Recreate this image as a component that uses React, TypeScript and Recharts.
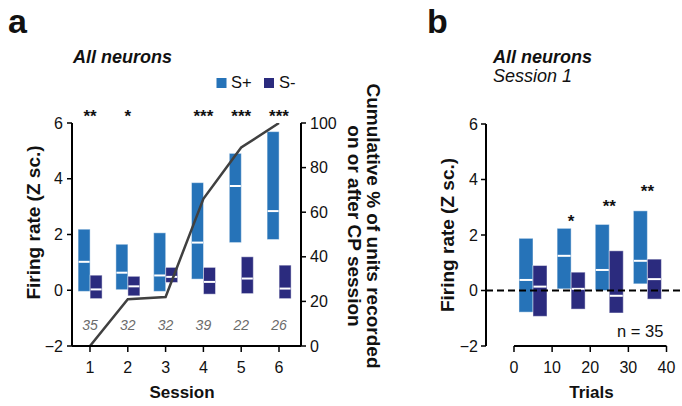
import React from 'react';
import { ComposedChart, Bar, Line, XAxis, YAxis, ReferenceLine, Scatter, Label } from 'recharts';

const FONT = '"Liberation Sans", Arial, Helvetica, sans-serif';
const SPLUS = '#2673b8';
const SMINUS = '#2b2b7e';
const INK = '#111111';

// ---------- Panel a : all neurons across sessions ----------
const sessions = [1, 2, 3, 4, 5, 6];
const splusLow = [-0.04, 0.02, -0.04, 0.4, 1.71, 1.82];
const splusHigh = [2.19, 1.65, 2.06, 3.86, 4.91, 5.69];
const splusMid = [1.02, 0.63, 0.53, 1.71, 3.74, 2.84];
const sminusLow = [-0.3, -0.2, 0.28, -0.14, -0.12, -0.3];
const sminusHigh = [0.54, 0.5, 0.82, 0.82, 1.2, 0.9];
const sminusMid = [0.03, 0.14, 0.48, 0.3, 0.42, 0.06];
const cumulativePct = [0, 21, 22, 66, 89, 100];
const unitCounts = [35, 32, 32, 39, 22, 26];
const sessionStars = ['**', '*', '', '***', '***', '***'];
const leftTicks = [-2, 0, 2, 4, 6];
const rightTicks = [0, 20, 40, 60, 80, 100];

// ---------- Panel b : session 1 across trials ----------
const trialBins = [5, 15, 25, 35];
const bSplusLow = [-0.78, 0.06, 0.0, 0.24];
const bSplusHigh = [1.88, 2.24, 2.38, 2.87];
const bSplusMid = [0.38, 1.25, 0.74, 1.07];
const bSminusLow = [-0.93, -0.67, -0.81, -0.31];
const bSminusHigh = [0.9, 0.66, 1.43, 1.13];
const bSminusMid = [0.14, 0.06, -0.19, 0.41];
const trialStars = ['', '*', '**', '**'];
const trialStarLevel = [0, 2.65, 3.2, 3.72];
const trialTicks = [0, 10, 20, 30, 40];

const rowsA = sessions.map((s, i) => ({
  session: s,
  sp: [splusLow[i], splusHigh[i]],
  spMid: splusMid[i],
  sm: [sminusLow[i], sminusHigh[i]],
  smMid: sminusMid[i],
  cum: cumulativePct[i],
}));

const rowsB = trialBins.map((t, i) => ({
  trial: t,
  sp: [bSplusLow[i], bSplusHigh[i]],
  spMid: bSplusMid[i],
  sm: [bSminusLow[i], bSminusHigh[i]],
  smMid: bSminusMid[i],
}));

const starRowsB = trialBins
  .map((t, i) => ({ trial: t, level: trialStarLevel[i], star: trialStars[i] }))
  .filter((r) => r.star !== '');

const minus = (v: number) => (v < 0 ? '\u2212' + Math.abs(v) : String(v));

const makeBox = (rangeKey: string, midKey: string, fill: string) => (props: any) => {
  const { x, y, width, height, payload } = props;
  if (x == null || y == null || !isFinite(y) || !payload) return <g />;
  const top = Math.min(y, y + height);
  const h = Math.abs(height);
  const [lo, hi] = payload[rangeKey];
  const mid = payload[midKey];
  const my = top + ((hi - mid) / (hi - lo)) * h;
  return (
    <g>
      <rect x={x} y={top} width={width} height={h} fill={fill} stroke="#ffffff" strokeOpacity={0.45} strokeWidth={1} />
      <line x1={x + 0.5} x2={x + width - 0.5} y1={my} y2={my} stroke="#ffffff" strokeWidth={2} />
    </g>
  );
};

const StarTick = (props: any) => {
  const { x, y, payload } = props;
  const i = sessions.indexOf(payload.value);
  const s = i >= 0 ? sessionStars[i] : '';
  return (
    <text x={x} y={y - 1} textAnchor="middle" fontSize={17} fontWeight="bold" fontFamily={FONT} fill={INK}>
      {s}
    </text>
  );
};

const SessionTick = (props: any) => {
  const { x, y, payload } = props;
  const i = sessions.indexOf(payload.value);
  return (
    <g>
      <text x={x} y={y} dy="0.71em" textAnchor="middle" fontSize={16} fontFamily={FONT} fill={INK}>
        {payload.value}
      </text>
      {i >= 0 && (
        <text x={x} y={y - 32} textAnchor="middle" fontSize={14} fontStyle="italic" fontFamily={FONT} fill="#6b6b6b">
          {unitCounts[i]}
        </text>
      )}
    </g>
  );
};

const StarShape = (props: any) => {
  const { cx, cy, payload } = props;
  if (cx == null || cy == null || !payload) return <g />;
  return (
    <text x={cx} y={cy + 9.9} textAnchor="middle" fontSize={17} fontWeight="bold" fontFamily={FONT} fill={INK}>
      {payload.star}
    </text>
  );
};

const yLabel = (dx: number, dy: number) => (p: any) => {
  const vb = p.viewBox || {};
  const cx = vb.x + dx;
  const cy = vb.y + vb.height / 2 + dy;
  return (
    <text
      x={cx}
      y={cy}
      transform={`rotate(-90 ${cx} ${cy})`}
      textAnchor="middle"
      dominantBaseline="central"
      fontSize={19}
      fontWeight="bold"
      fontFamily={FONT}
      fill={INK}
    >
      Firing rate (Z sc.)
    </text>
  );
};

const rightLabel = (p: any) => {
  const vb = p.viewBox || {};
  const cy = vb.y + vb.height / 2 - 8.5;
  const c1 = vb.x + 72.5;
  const c2 = vb.x + 53;
  return (
    <g>
      <text x={c1} y={cy} transform={`rotate(90 ${c1} ${cy})`} textAnchor="middle" dominantBaseline="central" fontSize={19} fontWeight="bold" fontFamily={FONT} fill={INK}>
        Cumulative % of units recorded
      </text>
      <text x={c2} y={cy} transform={`rotate(90 ${c2} ${cy})`} textAnchor="middle" dominantBaseline="central" fontSize={19} fontWeight="bold" fontFamily={FONT} fill={INK}>
        on or after CP session
      </text>
    </g>
  );
};

const xLabel = (text: string, dx: number) => (p: any) => {
  const vb = p.viewBox || {};
  return (
    <text x={vb.x + vb.width / 2 + dx} y={vb.y + 52} textAnchor="middle" fontSize={17} fontWeight="bold" fontFamily={FONT} fill={INK}>
      {text}
    </text>
  );
};

const tickStyle = { fontSize: 16, fill: INK, fontFamily: FONT };
const axisLine = { stroke: '#000', strokeWidth: 2 };
const tickLine = { stroke: '#000', strokeWidth: 1.5 };

const domainA: [number, number] = [0.524, 6.582];
const domainB: [number, number] = [-7.34, 43.8];

export default function App() {
  return (
    <div style={{ position: 'absolute', left: 0, top: 0, width: 682, height: 406, background: '#fff', fontFamily: FONT }}>
      <div style={{ position: 'absolute', left: 0, top: 0 }}>
        <ComposedChart width={400} height={406} data={rowsA} margin={{ top: 103, right: 39, bottom: 30, left: 12 }} barGap={0}>
          <XAxis
            xAxisId="top"
            orientation="top"
            dataKey="session"
            type="number"
            domain={domainA}
            ticks={sessions}
            allowDataOverflow
            height={20}
            axisLine={false}
            tickLine={false}
            tickSize={0}
            tickMargin={0}
            tick={StarTick}
          />
          <XAxis
            dataKey="session"
            type="number"
            domain={domainA}
            ticks={sessions}
            allowDataOverflow
            height={30}
            tickSize={6}
            tickMargin={10}
            axisLine={axisLine}
            tickLine={tickLine}
            tick={SessionTick}
          >
            <Label content={xLabel('Session', -4.5)} />
          </XAxis>
          <YAxis
            yAxisId="left"
            domain={[-2, 6]}
            ticks={leftTicks}
            allowDataOverflow
            width={60}
            tickSize={5}
            tickMargin={4}
            axisLine={axisLine}
            tickLine={tickLine}
            tick={tickStyle}
            tickFormatter={minus}
          >
            <Label content={yLabel(21, -12)} />
          </YAxis>
          <YAxis
            yAxisId="right"
            orientation="right"
            domain={[0, 100]}
            ticks={rightTicks}
            allowDataOverflow
            width={60}
            tickSize={5}
            tickMargin={4}
            axisLine={axisLine}
            tickLine={tickLine}
            tick={tickStyle}
          >
            <Label content={rightLabel} />
          </YAxis>
          <Bar yAxisId="left" dataKey="sp" name="S+" fill={SPLUS} barSize={12} isAnimationActive={false} shape={makeBox('sp', 'spMid', SPLUS)} />
          <Bar yAxisId="left" dataKey="sm" name="S-" fill={SMINUS} barSize={12} isAnimationActive={false} shape={makeBox('sm', 'smMid', SMINUS)} />
          <Line yAxisId="right" dataKey="cum" stroke="#404040" strokeWidth={2.5} dot={false} activeDot={false} isAnimationActive={false} />
        </ComposedChart>
      </div>

      <div style={{ position: 'absolute', left: 390, top: 0 }}>
        <ComposedChart width={292} height={406} data={rowsB} margin={{ top: 124, right: 1, bottom: 30, left: 36 }} barGap={0}>
          <XAxis
            dataKey="trial"
            type="number"
            domain={domainB}
            ticks={trialTicks}
            allowDataOverflow
            height={30}
            tickSize={6}
            tickMargin={10}
            axisLine={false}
            tickLine={tickLine}
            tick={tickStyle}
          >
            <Label content={xLabel('Trials', 8)} />
          </XAxis>
          <YAxis
            domain={[-2, 6]}
            ticks={leftTicks}
            allowDataOverflow
            width={60}
            tickSize={5}
            tickMargin={3}
            axisLine={axisLine}
            tickLine={tickLine}
            tick={tickStyle}
            tickFormatter={minus}
          >
            <Label content={yLabel(21, 0)} />
          </YAxis>
          <ReferenceLine
            segment={[
              { x: trialTicks[0], y: -2 },
              { x: trialTicks[trialTicks.length - 1], y: -2 },
            ]}
            stroke="#000"
            strokeWidth={2}
          />
          <Bar dataKey="sp" name="S+" fill={SPLUS} barSize={14} isAnimationActive={false} shape={makeBox('sp', 'spMid', SPLUS)} />
          <Bar dataKey="sm" name="S-" fill={SMINUS} barSize={14} isAnimationActive={false} shape={makeBox('sm', 'smMid', SMINUS)} />
          <ReferenceLine y={0} stroke="#000" strokeWidth={1.8} strokeDasharray="7 4" />
          <Scatter data={starRowsB} dataKey="level" isAnimationActive={false} shape={StarShape} />
        </ComposedChart>
      </div>

      <svg width={682} height={406} style={{ position: 'absolute', left: 0, top: 0, pointerEvents: 'none' }}>
        <g fontFamily={FONT} fill={INK}>
          <text x={8} y={33} fontSize={34} fontWeight="bold">a</text>
          <text x={427} y={33} fontSize={34} fontWeight="bold">b</text>
          <text x={73} y={63} fontSize={18} fontWeight="bold" fontStyle="italic">All neurons</text>
          <rect x={216.5} y={78} width={10} height={10} fill={SPLUS} />
          <text x={231} y={88} fontSize={16.5}>S+</text>
          <rect x={264} y={78} width={10} height={10} fill={SMINUS} />
          <text x={279} y={88} fontSize={16.5}>S-</text>
          <text x={493} y={63} fontSize={18} fontWeight="bold" fontStyle="italic">All neurons</text>
          <text x={493} y={82} fontSize={18} fontStyle="italic">Session 1</text>
          <text x={617} y={337} fontSize={16.5}>n = 35</text>
        </g>
      </svg>
    </div>
  );
}
